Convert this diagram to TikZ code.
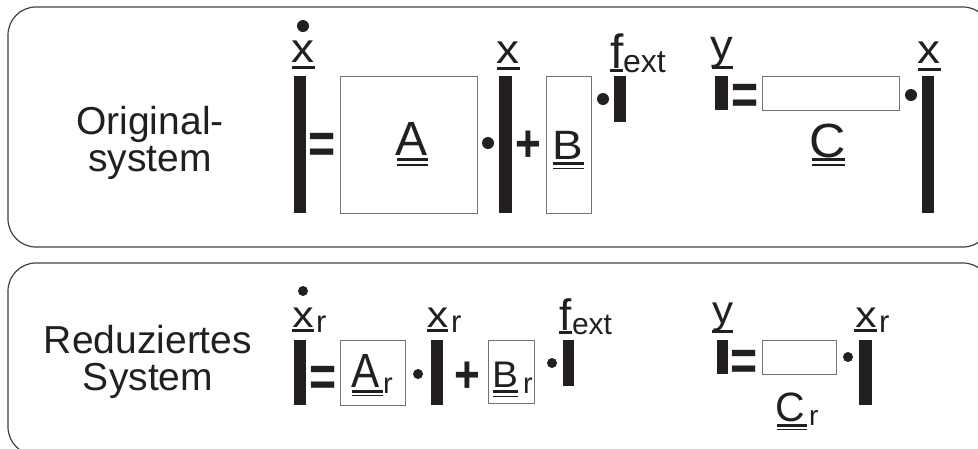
\documentclass[tikz,border=0pt]{standalone}
\usepackage{fontspec}
\setmainfont{Liberation Sans}
\usepackage{graphicx}

\definecolor{ink}{HTML}{231F20}
\newcommand\setfs[1]{\fontsize{#1}{#1}\selectfont}
\newcommand\widen[2]{\scalebox{#1}[1]{#2}}

\tikzset{
  panel/.style={draw=black!75, line width=1.2pt, rounded corners=28pt},
  vbar/.style={fill=ink, draw=none},
  mbox/.style={draw=black!55, line width=0.9pt, fill=white},
  opdot/.style={fill=ink, draw=none},
  ul/.style={draw=ink, line width=3pt},
  ulthin/.style={draw=ink, line width=1.4pt},
  sym/.style={inner sep=0pt, outer sep=0pt, anchor=base, text=ink},
  sub/.style={inner sep=0pt, outer sep=0pt, anchor=base west, text=ink},
  eqsym/.style={inner sep=0pt, outer sep=0pt, anchor=base, text=ink, font=\setfs{58}\bfseries},
  plsym/.style={inner sep=0pt, outer sep=0pt, anchor=base, text=ink, font=\setfs{52}\bfseries},
  caption/.style={inner sep=0pt, align=center, text=ink, font=\fontsize{39}{37}\selectfont},
}

\begin{document}
\begin{tikzpicture}[x=1pt, y=-1pt]
\useasboundingbox (0,0) rectangle (978,448);
\clip (0,0) rectangle (978,448);

% ---------- panels ----------
\draw[panel] (8,7) rectangle (991,247);
\draw[panel] (8,263) rectangle (991,455);

% ================= original system =================
\node[caption] (capO) at (150,143) {Original-\\system};

% x-dot = A x + B f_ext
\fill[vbar] (294,76) rectangle (306,213);
\node[sym, font=\setfs{41}] (xd) at (303,62) {\widen{1.12}{x}};
\fill[opdot] (303,26) circle (6);
\draw[ul] (292,67) -- (315,67);

\node[eqsym] (eq1) at (322.5,163) {\widen{0.8}{=}};

\draw[mbox] (340,76) rectangle (477,213);
\node[sym, font=\setfs{48}] (mA) at (412,155) {A};
\draw[ul] (397,159.5) -- (428,159.5);
\draw[ulthin] (397,165) -- (428,165);

\fill[opdot] (488,143) circle (6);

\fill[vbar] (499,76) rectangle (512,213);
\node[sym, font=\setfs{41}] (x1) at (508,63) {\widen{1.12}{x}};
\draw[ul] (497,68) -- (520,68);

\node[plsym] (pl1) at (528,161) {\widen{0.85}{+}};

\draw[mbox] (546,76) rectangle (591,213);
\node[sym, font=\setfs{41}] (mB) at (568,159) {\widen{1.12}{B}};
\draw[ul] (553,163.5) -- (584,163.5);
\draw[ulthin] (553,168.5) -- (584,168.5);

\fill[opdot] (603,99) circle (6);

\fill[vbar] (614,76) rectangle (626,122);
\node[sym, font=\setfs{48}] (f1) at (617,68) {f};
\node[sub, font=\setfs{32}] (f1s) at (623,72) {ext};
\draw[ul] (610,70) -- (623,70);

% y = C x
\fill[vbar] (715,76) rectangle (728,110);
\node[sym, font=\setfs{42}] (y1) at (722,59) {\widen{1.08}{y}};
\draw[ul] (712,67) -- (733,67);

\node[eqsym] (eq2) at (745,114.5) {\widen{0.8}{=}};

\draw[mbox] (762,76) rectangle (899,110);
\node[sym, font=\setfs{48}] (mC) at (828,157) {\widen{1.05}{C}};
\draw[ul] (812,159.5) -- (845,159.5);
\draw[ulthin] (812,165) -- (845,165);

\fill[opdot] (911,95) circle (6);

\fill[vbar] (922,76) rectangle (934,213);
\node[sym, font=\setfs{41}] (x2) at (929,63) {\widen{1.12}{x}};
\draw[ul] (918,69) -- (941,69);

% ================= reduced system =================
\node[caption] (capR) at (148,362) {Reduziertes\\System};

% x_r-dot = A_r x_r + B_r f_ext
\fill[vbar] (294,340) rectangle (306,405);
\node[sym, font=\setfs{37}] (xrd) at (303,327) {\widen{1.15}{x}};
\node[sub, font=\setfs{31}] (xrds) at (316,332) {r};
\fill[opdot] (303,291) circle (5);
\draw[ul] (292,330) -- (314,330);

\node[eqsym] (eq3) at (323.5,396.5) {\widen{0.8}{=}};

\draw[mbox] (340,340) rectangle (405,405);
\node[sym, font=\setfs{48}] (mAr) at (366,387) {\widen{0.88}{A}};
\node[sub, font=\setfs{29}] (mArs) at (383,393) {r};
\draw[ul] (352,391) -- (383,391);
\draw[ulthin] (352,395.5) -- (383,395.5);

\fill[opdot] (418,374) circle (5);

\fill[vbar] (431,340) rectangle (443,405);
\node[sym, font=\setfs{37}] (xr1) at (437.5,327) {\widen{1.15}{x}};
\node[sub, font=\setfs{31}] (xr1s) at (451,332) {r};
\draw[ul] (427,330) -- (448,330);

\node[plsym] (pl2) at (467,392) {\widen{0.85}{+}};

\draw[mbox] (488,340) rectangle (534,403);
\node[sym, font=\setfs{37}] (mBr) at (505,387) {\widen{1.05}{B}};
\node[sub, font=\setfs{29}] (mBrs) at (523,393) {r};
\draw[ul] (493,391.5) -- (518,391.5);
\draw[ulthin] (493,396.5) -- (518,396.5);

\fill[opdot] (552,363) circle (5);

\fill[vbar] (563,340) rectangle (574,386);
\node[sym, font=\setfs{44}] (f2) at (566,330) {f};
\node[sub, font=\setfs{30}] (f2s) at (572,334) {ext};
\draw[ul] (559,332) -- (572,332);

% y = C_r x_r
\fill[vbar] (717,340) rectangle (728,374);
\node[sym, font=\setfs{39}] (y2) at (723,323) {\widen{1.08}{y}};
\draw[ul] (712,331) -- (733,331);

\node[eqsym] (eq4) at (744.5,380.5) {\widen{0.8}{=}};

\draw[mbox] (762,340) rectangle (836,374);
\node[sym, font=\setfs{41}] (mCr) at (790,421) {C};
\node[sub, font=\setfs{28}] (mCrs) at (809,425) {r};
\draw[ul] (777,425.5) -- (807,425.5);
\draw[ulthin] (777,429.5) -- (807,429.5);

\fill[opdot] (848,357) circle (5);

\fill[vbar] (859,340) rectangle (872,405);
\node[sym, font=\setfs{37}] (xr2) at (866,327) {\widen{1.15}{x}};
\node[sub, font=\setfs{31}] (xr2s) at (879,332) {r};
\draw[ul] (854,330) -- (877,330);
\end{tikzpicture}
\end{document}
